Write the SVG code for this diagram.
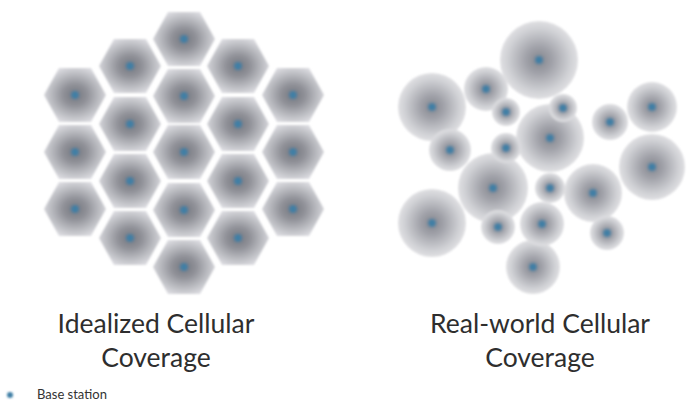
<svg xmlns="http://www.w3.org/2000/svg" xmlns:xlink="http://www.w3.org/1999/xlink" width="688" height="407" viewBox="0 0 688 407">
<style>
.hex{fill:url(#hg)}
.cell{fill:url(#cg)}
.bs{fill:#3f7fa6;filter:url(#soft)}
.lbl{font-family:Lato,"Open Sans","Liberation Sans",sans-serif;font-size:26.5px;fill:#2e2e2e;text-anchor:middle}
.leg{font-family:Lato,"Open Sans","Liberation Sans",sans-serif;font-size:13px;fill:#333}
</style>
<defs>
<radialGradient id="hg" cx="0.5" cy="0.5" r="0.55">
<stop offset="0" stop-color="#76787f"/>
<stop offset="0.35" stop-color="#909198"/>
<stop offset="0.75" stop-color="#c0c1c6"/>
<stop offset="1" stop-color="#dedee3"/>
</radialGradient>
<radialGradient id="cg" cx="0.5" cy="0.5" r="0.5">
<stop offset="0" stop-color="#84868e"/>
<stop offset="0.35" stop-color="#a2a3aa"/>
<stop offset="0.8" stop-color="#cfd0d4"/>
<stop offset="1" stop-color="#e0e0e3"/>
</radialGradient>
<filter id="soft" x="-1" y="-1" width="3" height="3"><feGaussianBlur stdDeviation="1"/></filter>
<filter id="blur" x="-0.2" y="-0.2" width="1.4" height="1.4"><feGaussianBlur stdDeviation="1.2"/></filter>
<path id="hx" class="hex" d="M-31,0 L-16,-27 L16,-27 L31,0 L16,27 L-16,27 Z"/>
</defs>
<rect width="688" height="407" fill="#ffffff"/>
<g id="idealized" filter="url(#blur)">
<g id="h1" transform="translate(75,95)"><use xlink:href="#hx"/><circle class="bs" r="4"/></g>
<g id="h2" transform="translate(75,152)"><use xlink:href="#hx"/><circle class="bs" r="4"/></g>
<g id="h3" transform="translate(75,209)"><use xlink:href="#hx"/><circle class="bs" r="4"/></g>
<g id="h4" transform="translate(130,66)"><use xlink:href="#hx"/><circle class="bs" r="4"/></g>
<g id="h5" transform="translate(130,124)"><use xlink:href="#hx"/><circle class="bs" r="4"/></g>
<g id="h6" transform="translate(130,181)"><use xlink:href="#hx"/><circle class="bs" r="4"/></g>
<g id="h7" transform="translate(130,238)"><use xlink:href="#hx"/><circle class="bs" r="4"/></g>
<g id="h8" transform="translate(184,39)"><use xlink:href="#hx"/><circle class="bs" r="4"/></g>
<g id="h9" transform="translate(184,96)"><use xlink:href="#hx"/><circle class="bs" r="4"/></g>
<g id="h10" transform="translate(184,152)"><use xlink:href="#hx"/><circle class="bs" r="4"/></g>
<g id="h11" transform="translate(184,210)"><use xlink:href="#hx"/><circle class="bs" r="4"/></g>
<g id="h12" transform="translate(184,267)"><use xlink:href="#hx"/><circle class="bs" r="4"/></g>
<g id="h13" transform="translate(238,66)"><use xlink:href="#hx"/><circle class="bs" r="4"/></g>
<g id="h14" transform="translate(238,124)"><use xlink:href="#hx"/><circle class="bs" r="4"/></g>
<g id="h15" transform="translate(238,181)"><use xlink:href="#hx"/><circle class="bs" r="4"/></g>
<g id="h16" transform="translate(238,238)"><use xlink:href="#hx"/><circle class="bs" r="4"/></g>
<g id="h17" transform="translate(293,95)"><use xlink:href="#hx"/><circle class="bs" r="4"/></g>
<g id="h18" transform="translate(293,152)"><use xlink:href="#hx"/><circle class="bs" r="4"/></g>
<g id="h19" transform="translate(293,209)"><use xlink:href="#hx"/><circle class="bs" r="4"/></g>
</g>
<g id="realworld" filter="url(#blur)">
<g id="c1" transform="translate(539,60)"><circle class="cell" r="39"/><circle class="bs" r="4"/></g>
<g id="c2" transform="translate(432,107)"><circle class="cell" r="34"/><circle class="bs" r="4"/></g>
<g id="c6" transform="translate(550,138)"><circle class="cell" r="34"/><circle class="bs" r="4"/></g>
<g id="c11" transform="translate(652,167)"><circle class="cell" r="33"/><circle class="bs" r="4"/></g>
<g id="c12" transform="translate(493,188)"><circle class="cell" r="35"/><circle class="bs" r="4"/></g>
<g id="c14" transform="translate(593,193)"><circle class="cell" r="29"/><circle class="bs" r="4"/></g>
<g id="c15" transform="translate(432,223)"><circle class="cell" r="34"/><circle class="bs" r="4"/></g>
<g id="c19" transform="translate(533,267)"><circle class="cell" r="27"/><circle class="bs" r="4"/></g>
<g id="c3" transform="translate(486,89)"><circle class="cell" r="22"/><circle class="bs" r="4"/></g>
<g id="c8" transform="translate(652,107)"><circle class="cell" r="25"/><circle class="bs" r="4"/></g>
<g id="c9" transform="translate(450,150)"><circle class="cell" r="21"/><circle class="bs" r="4"/></g>
<g id="c7" transform="translate(610,122)"><circle class="cell" r="18"/><circle class="bs" r="4"/></g>
<g id="c17" transform="translate(542,224)"><circle class="cell" r="22"/><circle class="bs" r="4"/></g>
<g id="c4" transform="translate(506,112)"><circle class="cell" r="14"/><circle class="bs" r="4"/></g>
<g id="c5" transform="translate(563,108)"><circle class="cell" r="14"/><circle class="bs" r="4"/></g>
<g id="c10" transform="translate(506,148)"><circle class="cell" r="15"/><circle class="bs" r="4"/></g>
<g id="c13" transform="translate(550,188)"><circle class="cell" r="15"/><circle class="bs" r="4"/></g>
<g id="c16" transform="translate(498,227)"><circle class="cell" r="17"/><circle class="bs" r="4"/></g>
<g id="c18" transform="translate(607,233)"><circle class="cell" r="17"/><circle class="bs" r="4"/></g>
</g>
<g id="labels">
<text class="lbl" x="156" y="333">Idealized Cellular</text>
<text class="lbl" x="156" y="367">Coverage</text>
<text class="lbl" x="540" y="333">Real-world Cellular</text>
<text class="lbl" x="540" y="367">Coverage</text>
</g>
<g id="legend">
<circle class="bs" cx="10" cy="395" r="3"/>
<text class="leg" x="37" y="399">Base station</text>
</g>
</svg>
